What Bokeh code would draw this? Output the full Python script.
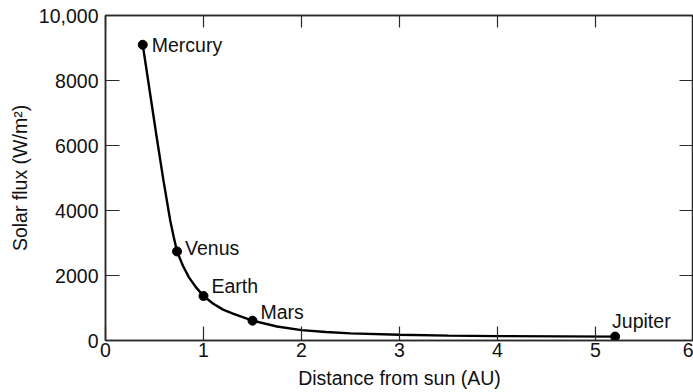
from bokeh.plotting import figure
from bokeh.models import FixedTicker, LinearAxis, ColumnDataSource, Range1d
from bokeh.core.properties import value
from bokeh.embed import file_html
from bokeh.resources import INLINE

# --- data ---
planets = ["Mercury", "Venus", "Earth", "Mars", "Jupiter"]
distance_au = [0.38, 0.73, 1.0, 1.5, 5.2]
solar_flux = [9100, 2740, 1370, 610, 120]

# points
curve_x = [0.38, 0.45, 0.52, 0.59, 0.66, 0.695, 0.73, 0.79, 0.85, 0.92, 1.0,
           1.1, 1.2, 1.3, 1.5, 1.75, 2.0, 2.25, 2.5, 3.0, 3.5, 4.0, 5.2]
curve_y = [9100, 7700, 6300, 4950, 3700, 3200, 2740, 2300, 1950, 1650, 1370,
           1130, 950, 830, 610, 430, 320, 260, 220, 175, 150, 135, 120]

x_ticks = [0, 1, 2, 3, 4, 5, 6]
y_ticks = [0, 2000, 4000, 6000, 8000, 10000]
y_tick_labels = ["0", "2000", "4000", "6000", "8000", "10,000"]

# label placement (screen-pixel offsets, style only)
label_dx = [9, 8, 8, 8, -3]
label_dy = [0, -3, -10, -9, -16]

FONT = "Liberation Sans"
FS = "19.5px"
AXIS_COLOR = "#2a2a2a"

p = figure(width=693, height=392,
           x_range=Range1d(0, 6), y_range=Range1d(0, 10000),
           output_backend="svg", toolbar_location=None,
           min_border_left=105, min_border_right=0,
           min_border_top=15, min_border_bottom=52,
           x_axis_label="Distance from sun (AU)",
           y_axis_label="Solar flux (W/m²)")
p.background_fill_color = "white"
p.border_fill_color = "white"
p.outline_line_color = AXIS_COLOR
p.outline_line_width = 1.5
p.xgrid.visible = False
p.ygrid.visible = False

xt = FixedTicker(ticks=x_ticks)
yt = FixedTicker(ticks=y_ticks)

for ax in (p.xaxis[0], p.yaxis[0]):
    ax.major_tick_in = 14
    ax.major_tick_out = 0
    ax.minor_tick_in = 0
    ax.minor_tick_out = 0
    ax.major_tick_line_color = AXIS_COLOR
    ax.major_tick_line_width = 1.2
    ax.axis_line_color = AXIS_COLOR
    ax.axis_line_width = 1.5
    ax.major_label_text_font = FONT
    ax.major_label_text_font_size = FS
    ax.major_label_text_color = "#111111"
    ax.axis_label_text_font = FONT
    ax.axis_label_text_font_size = FS
    ax.axis_label_text_font_style = "normal"
    ax.axis_label_text_color = "#111111"

p.xaxis[0].ticker = xt
p.yaxis[0].ticker = yt
p.yaxis[0].major_label_overrides = {t: s for t, s in zip(y_ticks, y_tick_labels)}
p.xaxis[0].major_label_standoff = 2
p.xaxis[0].axis_label_standoff = 7
p.yaxis[0].major_label_standoff = 7
p.yaxis[0].axis_label_standoff = 5

top = LinearAxis(ticker=xt, major_tick_in=12, major_tick_out=0,
                 minor_tick_in=0, minor_tick_out=0,
                 major_label_overrides={t: "" for t in x_ticks},
                 major_label_text_font_size="1px", major_label_standoff=0,
                 axis_line_color=AXIS_COLOR, axis_line_width=1.5,
                 major_tick_line_color=AXIS_COLOR, major_tick_line_width=1.2)
right = LinearAxis(ticker=yt, major_tick_in=14, major_tick_out=0,
                   minor_tick_in=0, minor_tick_out=0,
                   major_label_overrides={t: "" for t in y_ticks},
                   major_label_text_font_size="1px", major_label_standoff=0,
                   axis_line_color=AXIS_COLOR, axis_line_width=1.5,
                   major_tick_line_color=AXIS_COLOR, major_tick_line_width=1.2)
p.add_layout(top, "above")
p.add_layout(right, "right")

p.line(curve_x, curve_y, line_color="black", line_width=2.4)

src = ColumnDataSource(dict(x=distance_au, y=solar_flux, name=planets,
                            dx=label_dx, dy=label_dy))
p.scatter("x", "y", source=src, size=9, fill_color="black", line_color="black")
p.text("x", "y", text="name", source=src, x_offset="dx", y_offset="dy",
       text_font=value(FONT), text_font_size=FS, text_color="#111111",
       text_baseline="middle", text_align="left")

open("out.html", "w").write(file_html(p, INLINE))
